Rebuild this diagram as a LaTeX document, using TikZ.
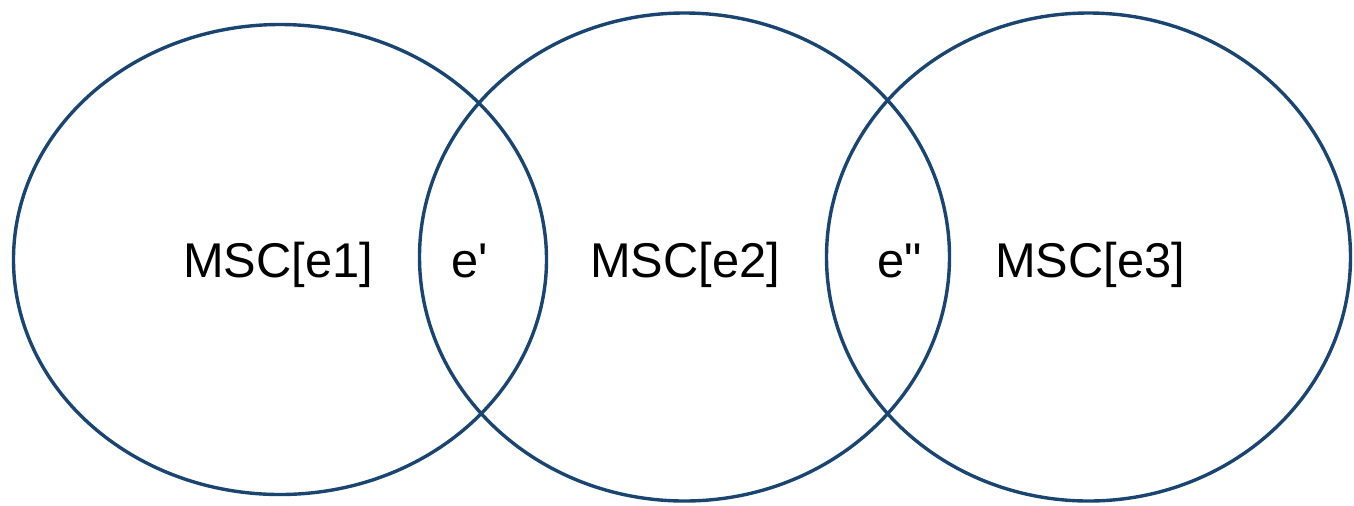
\documentclass[tikz,border=0pt]{standalone}
\usepackage{fontspec}
\newfontfamily\labelfont{Liberation Sans}
\usepackage{tikz}
\usetikzlibrary{positioning,shapes.geometric}
\definecolor{zoneblue}{HTML}{1B4571}

\begin{document}
\begin{tikzpicture}[x=0.5pt,y=-0.5pt,outer sep=0pt,
  zone/.style={
    ellipse,
    draw=zoneblue,
    line width=1.7pt,
    inner sep=0pt,
    },
  tag/.style={
    anchor=base,
    inner sep=0pt,
    font={\labelfont\fontsize{24.4}{28}\selectfont\color{black}},
    },
  ]
  \useasboundingbox (0,0) rectangle (1354,505);

  \node[zone, minimum width=266.5pt, minimum height=235pt] (msc1) at (280,259.5) {};
  \node[zone, minimum width=265pt, minimum height=244pt] (msc2) at (684.5,257) {};
  \node[zone, minimum width=262pt, minimum height=244pt] (msc3) at (1088.5,257) {};

  \node[tag] (lab1) at (278,277) {MSC[e1]};
  \node[tag] (lab2) at (685,277) {MSC[e2]};
  \node[tag] (lab3) at (1090,277) {MSC[e3]};

  \node[tag] (cut12) at (470,277) {e'};
  \node[tag] (cut23) at (900,277) {e"};

\end{tikzpicture}
\end{document}
